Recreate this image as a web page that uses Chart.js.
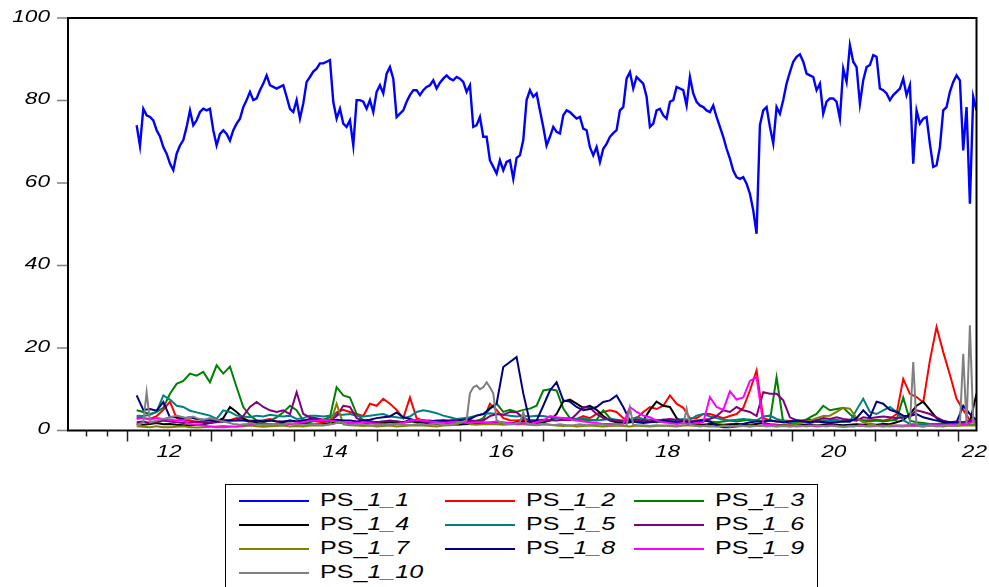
<!DOCTYPE html>
<html>
<head>
<meta charset="utf-8">
<script src="https://cdn.jsdelivr.net/npm/chart.js@4.4.0/dist/chart.umd.min.js"></script>
<style>
  html, body { margin: 0; padding: 0; background: #fff; }
  #wrap { position: relative; width: 989px; height: 587px; overflow: hidden; }
  #legend { position: absolute; left: 225px; top: 484px; width: 593px; height: 115px;
            border: 1px solid #000; box-sizing: border-box; background: #fff; }
  .item { position: absolute; height: 24px; width: 190px; }
  .item .ln { position: absolute; left: 0; top: 11px; width: 70px; height: 2px; }
  .item .tx { position: absolute; left: 81px; top: 0; line-height: 24px; white-space: nowrap;
              font: 19px "Liberation Sans", Arial, sans-serif; color: #000;
              transform: scaleX(1.32); transform-origin: 0 50%; }
</style>
</head>
<body>
<div id="wrap">
  <canvas id="grafico" width="989" height="587"></canvas>
  <div id="legend"></div>
</div>
<script>
// Eixo do tempo (anos fracionários)
const inicio = 2012.111;
const passoFino = 0.04011;    // ~2 semanas
const passoGrosso = 0.08022;  // ~1 mês

// Rótulos dos eixos
const yTicks = [0, 20, 40, 60, 80, 100];
const xLabelAnos = [2012, 2014, 2016, 2018, 2020, 2022];
const xLabels = ["12", "14", "16", "18", "20", "22"];

const nomes = ["PS_1_1", "PS_1_2", "PS_1_3", "PS_1_4", "PS_1_5", "PS_1_6", "PS_1_7", "PS_1_8", "PS_1_9", "PS_1_10"];
const cores = ["#0000ff", "#ff0000", "#008000", "#000000", "#008080", "#800080", "#808000", "#000080", "#ff00ff", "#808080"];

// PS_1_1 (grade fina)
const ps11 = [
  74, 69, 78, 76.4, 76, 75.2, 72.8, 71.3, 68.7, 67.1,
  64.7, 63.1, 67.1, 69.1, 70.4, 73.6, 77.6, 74, 75.2, 77.2,
  78, 77.6, 78, 72.8, 69.1, 71.9, 72.8, 71.9, 70.3, 72.8,
  74.4, 75.6, 78.4, 80.1, 82.1, 80.1, 80.5, 82.5, 84.1, 86.1,
  83.7, 83.3, 82.9, 83.3, 83.7, 80.9, 78, 77.2, 80.1, 75.6,
  79.3, 84.5, 85.7, 87, 87.7, 89, 89, 89.4, 89.8, 79.7,
  75.6, 78, 74.4, 73.6, 75.2, 69.1, 80.1, 80.1, 79.7, 78,
  80.1, 77.2, 82.1, 83.7, 81.7, 86.5, 88.1, 85.3, 76, 76.8,
  77.6, 79.7, 81.3, 82.5, 82.5, 81.3, 82.5, 83.3, 83.7, 84.9,
  82.9, 84.3, 85.3, 86.1, 85.3, 84.9, 85.7, 85.3, 84.5, 82.1,
  83.7, 73.6, 74, 76, 71.2, 71.2, 65.5, 63.9, 62.3, 65.5,
  63.1, 65.1, 65.5, 61, 66.1, 66.7, 70.4, 80.1, 82.5, 80.9,
  81.7, 77.6, 73.6, 69.1, 71.2, 73.6, 72.4, 72, 76.4, 77.6,
  77.2, 76.4, 75.6, 76, 73.2, 72.8, 68.7, 66.7, 68.7, 65.1,
  68.3, 69.5, 71.2, 72.1, 72.8, 77.6, 78.4, 85.3, 86.9, 82.9,
  85.7, 84.9, 84.1, 80.9, 73.6, 74.4, 77.6, 78, 76.4, 75.6,
  79.7, 80.1, 83.3, 82.9, 82.5, 78.8, 85.7, 81.7, 79.7, 78.8,
  78.4, 77.6, 77.2, 78.8, 76, 73.6, 71.2, 68.3, 65.9, 63,
  61.4, 61, 61.4, 59.8, 57.4, 53.4, 47.7, 74, 77.6, 78.4,
  73.6, 69.6, 78.4, 76.8, 80.1, 84.1, 86.9, 89.4, 90.6, 91.2,
  89.4, 86.5, 86.1, 85.7, 82.5, 84.1, 76.8, 79.7, 80.5, 80.5,
  79.7, 75.6, 87.7, 84.5, 93.4, 89.4, 88.1, 79.2, 84.9, 88.1,
  88.6, 91, 90.6, 82.9, 82.5, 81.7, 80.1, 81.3, 82.1, 82.9,
  85.3, 81.3, 83.7, 64.7, 77.6, 74.4, 75.6, 76, 69.5, 63.9,
  64.3, 68.7, 77.6, 78.4, 82.1, 84.5, 86.1, 84.9, 67.9, 78.4,
  55, 80.9, 77.6
];

// PS_1_2 .. PS_1_9 (grade grossa)
const ps12 = [
  3.2, 3, 2.8, 3.5, 5, 7, 3, 2.5, 2.5, 2,
  2.2, 2.5, 2.4, 2.6, 2.5, 3, 2.8, 2.4, 2.3, 2.5,
  2.8, 2.2, 2, 2.4, 2.2, 2.5, 2.4, 2.2, 2, 2.5,
  4.4, 5, 4.5, 4, 3.5, 6.5, 6, 7.7, 6.5, 5,
  3, 8, 3, 2.4, 2.4, 2.2, 2.4, 2.5, 2.6, 2.5,
  2.3, 2.4, 2.6, 6.5, 5, 3, 2.5, 2.4, 2.6, 2.4,
  2.5, 2.3, 2.5, 3, 3, 3, 2.8, 3.5, 3, 4,
  4.5, 4.9, 4.5, 3, 2.5, 3, 4.5, 5.7, 5.2, 6,
  8.5, 6.5, 5.5, 3, 3, 4, 4, 3.5, 3, 3.5,
  4, 5.5, 9.7, 14.6, 3, 2.5, 2.2, 2.4, 2.3, 2.5,
  2.2, 2.4, 2.2, 2.5, 2.3, 2.4, 2.2, 2.5, 2.6, 2.4,
  2.5, 2.6, 2.4, 2.8, 4, 12.5, 8.9, 8.1, 6.8, 17,
  25.1, 19, 13.5, 7.7, 5, 2.5, 2.2
];
const ps13 = [
  4.9, 4.5, 4, 4.5, 5.5, 8.9, 11.3, 12, 13.8, 13.3,
  14.2, 11.7, 15.8, 13.8, 15.5, 10.5, 5.7, 3.6, 2.4, 2,
  2.4, 3.2, 4.4, 6, 4.9, 2.4, 2, 2.5, 2.6, 3.2,
  10.5, 8.5, 8, 4, 2.5, 2.2, 2, 2.2, 2, 1.8,
  2, 2.2, 2, 2.4, 2.2, 2, 1.8, 2, 2.2, 2,
  2.4, 2.2, 3, 5.5, 6.5, 4.5, 5, 4.5, 5, 5.3,
  6, 9.7, 10, 9.7, 5.3, 3, 2.8, 2.6, 2.4, 2.6,
  4.9, 3, 2.4, 2.2, 2, 2.2, 2.4, 2.2, 2, 2.2,
  2, 2.2, 2.4, 2, 2.2, 2.4, 2.2, 2, 2.2, 2.4,
  2.2, 2.4, 2.6, 2.4, 2.2, 2.4, 12.9, 2, 1.8, 2,
  2.2, 3.2, 4, 6, 4.9, 5.2, 5.5, 4, 2.6, 2.4,
  2.2, 2.4, 2.2, 2.4, 2.6, 8, 2.4, 2, 1.8, 1.6,
  1.6, 1.8, 1.6, 1.8, 2, 2.2, 2.4
];
const ps14 = [
  1.5, 1.4, 1.6, 1.8, 1.5, 1.6, 1.4, 1.3, 1.2, 1.4,
  1.5, 1.8, 2.2, 3, 5.7, 4.5, 3, 2, 1.8, 1.6,
  1.5, 1.6, 1.8, 1.6, 1.5, 1.8, 1.6, 1.5, 1.6, 1.8,
  2, 1.8, 1.6, 1.5, 1.6, 1.8, 2, 1.8, 2, 2.2,
  2, 2.5, 2, 1.8, 1.6, 1.5, 1.6, 1.5, 1.4, 1.5,
  1.6, 1.8, 1.6, 1.8, 2, 1.8, 1.6, 2, 2.2, 2,
  1.8, 2, 2.4, 4, 7, 7.5, 6.5, 5.5, 6, 5,
  3.5, 2.4, 2, 1.8, 2, 2.2, 2.4, 5, 7, 6,
  5.7, 3, 2, 1.6, 1.5, 1.4, 1.6, 1.5, 1.4, 1.5,
  1.6, 1.5, 1.4, 1.6, 1.8, 1.5, 1.4, 1.3, 1.4, 1.5,
  1.4, 1.5, 1.3, 1.4, 1.5, 1.4, 1.3, 1.4, 1.5, 1.4,
  1.5, 1.4, 1.6, 1.5, 2, 2.5, 4, 6, 7, 5,
  3, 2, 1.5, 1.4, 1.6, 2, 9
];
const ps15 = [
  3.6, 3.5, 3.8, 4.5, 8.5, 7.5, 6, 5.7, 4.8, 4.4,
  4, 3.6, 2.8, 4.9, 4.5, 3.6, 3.4, 3.2, 3.6, 3.4,
  3.8, 3.6, 3.4, 3.6, 2.8, 3, 3.6, 3.6, 3.4, 3.6,
  3.8, 3.8, 4, 3.6, 3.4, 3.6, 3.8, 4, 3.4, 3.2,
  3, 3.4, 4.5, 4.9, 4.6, 4.2, 3.6, 3.2, 2.8, 3,
  3.2, 3.6, 4, 4.2, 4, 3.8, 3.6, 3.4, 3.6, 3.4,
  3.6, 3.5, 3.2, 3, 2.8, 2.6, 2.8, 3, 2.6, 2.4,
  2.6, 2.8, 2.6, 2.4, 2.6, 3.2, 2.8, 2.6, 2.4, 2.6,
  2.4, 2.6, 2.8, 2.6, 3.6, 4, 3.4, 3, 2.6, 2.4,
  2.6, 2.8, 2.6, 2.4, 3.4, 3.6, 2.8, 2.4, 2, 2.2,
  2.4, 2.6, 2.4, 2.2, 2.4, 2.6, 2.2, 2.2, 5, 7.7,
  4.5, 4, 4.9, 5.7, 4.5, 2.5, 1.6, 1.5, 1.5, 1.5,
  1.5, 1.4, 1.5, 1.6, 1.5, 1.4, 1.5
];
const ps16 = [
  2, 2.2, 1.8, 2, 2.4, 2.2, 2, 1.8, 2, 2.2,
  2, 1.8, 2, 2.2, 2.4, 2.5, 3.5, 5.7, 6.9, 5.7,
  4.9, 4.5, 4.9, 4, 9.3, 4, 3.2, 3, 2.6, 2.4,
  3.5, 6, 5.7, 3, 2.4, 2.2, 2, 2.2, 2.4, 2.2,
  2, 2.2, 2.4, 2.2, 2, 2.2, 2.4, 2.2, 2, 2.2,
  2.4, 2.2, 2.4, 3.5, 4, 3.8, 4.5, 4.4, 3, 2.5,
  2.4, 2.6, 2.5, 2.4, 2.6, 2.5, 4, 5.7, 5.5, 4,
  3, 2.6, 2.4, 2.2, 2.4, 2.6, 2.4, 2.2, 2.4, 2.6,
  2.8, 2.6, 2.4, 2.2, 2.4, 2.6, 2.8, 3.5, 4.9, 4.5,
  5.7, 4.9, 4.5, 3.5, 9.3, 8.9, 8.9, 7.3, 3.2, 2.5,
  2.4, 2.6, 2.5, 3, 2.8, 3.2, 2.8, 2.6, 2.4, 3.2,
  3, 3.2, 3.4, 3.2, 3, 3.2, 3.5, 4.9, 4.5, 4,
  3.2, 2.4, 2, 2.2, 2, 2.4, 2
];
const ps17 = [
  1, 0.9, 0.8, 1, 0.8, 0.8, 0.9, 1, 0.8, 0.7,
  0.8, 0.9, 1, 1.1, 1, 0.9, 1, 1.2, 1, 0.9,
  1, 1.1, 1.2, 1, 1.1, 1, 1.2, 1.3, 1.2, 1.5,
  6.5, 1.5, 1.3, 1.2, 1.1, 1.2, 1, 1.1, 1.2, 1,
  1.1, 1.2, 1.3, 1.2, 1.1, 1, 1.2, 1.3, 1.4, 2.4,
  1.5, 1.4, 1.5, 1.6, 1.5, 1.4, 1.5, 1.6, 1.5, 1.4,
  1.3, 1.5, 1.4, 1.2, 1.1, 1.2, 1, 1.1, 1.2, 1.1,
  1, 1.1, 1.2, 1.1, 1, 1.2, 1.1, 1, 1.1, 1.2,
  1.1, 1, 1.2, 1.3, 1.2, 1.1, 1, 1.1, 1.2, 1.1,
  1, 1.1, 1.2, 1.1, 1.2, 1.4, 1.3, 1.2, 1.4, 1.6,
  2, 2.4, 3, 3.5, 3.6, 4.5, 5.5, 5.3, 3, 2,
  1.5, 1.2, 1.1, 1.2, 1.1, 1, 1.2, 1.1, 1, 1.2,
  1.1, 1, 1.2, 1.1, 1.2, 1.3, 1.2
];
const ps18 = [
  8.5, 5, 5.2, 4.8, 6.9, 3.2, 3.2, 3, 3.2, 2.8,
  2.6, 2.4, 2.4, 2.2, 2.4, 2.4, 2.4, 2.2, 2.4, 2.2,
  2.4, 2.2, 2.2, 2.4, 2.2, 2.4, 2.8, 2.6, 2.4, 2.4,
  2.6, 2.4, 2.4, 2.2, 2.4, 2.6, 3, 3.2, 3.4, 4.4,
  3.2, 2.8, 2.4, 2.4, 2.2, 2.4, 2.4, 2.2, 2.4, 2.6,
  2.8, 3.6, 4, 5.3, 6.5, 15.4, 16.6, 17.8, 9, 2,
  2.4, 6, 9.7, 11.7, 7.3, 7, 5.7, 4.9, 5.2, 5.7,
  6.9, 7.3, 8.5, 5.7, 2.4, 2, 1.8, 2, 2.2, 2.4,
  2.2, 2, 2.2, 2, 2.2, 2.4, 2.2, 1.2, 0.8, 0.8,
  1, 1.6, 2, 2.2, 2.2, 2.4, 2.2, 2, 2.2, 2.4,
  2.2, 2, 2.2, 2, 1.8, 2, 2.2, 2.2, 3, 4.9,
  3.2, 7, 6.5, 5, 4.5, 3.6, 3.5, 4, 3.2, 2.8,
  2.4, 2.2, 2, 2, 6, 4, 2.5
];
const ps19 = [
  2.8, 3, 2.6, 3, 2.8, 2.6, 2.4, 2.4, 1.6, 1.4,
  1.2, 1, 0.8, 0.8, 0.9, 1, 1.2, 1.4, 1.4, 1.6,
  1.4, 1.6, 1.4, 1.6, 1.8, 2, 2.4, 2.4, 2.6, 2.4,
  2.2, 2, 2, 1.8, 2, 1.8, 1.6, 1.4, 1.4, 1.6,
  1.8, 2.4, 2.6, 2.4, 2.2, 2, 1.8, 2, 2.2, 2,
  1.8, 2, 2, 2, 2.2, 2, 1.8, 1.6, 1.8, 1.6,
  2, 2.4, 3.5, 3.2, 3, 2.8, 2.4, 2.2, 2, 1.8,
  1.6, 1.6, 1.5, 1.6, 5.7, 4.5, 3.6, 3.2, 2.4, 2,
  1.8, 1.6, 1.8, 1.6, 1.8, 2, 8.1, 5.7, 5, 9.5,
  7.5, 8, 12, 12.9, 1.6, 1.4, 1.2, 1.1, 1.2, 1,
  1.1, 1.2, 1, 1.1, 1.2, 1, 0.9, 1, 1.1, 1.2,
  1, 1.1, 1.2, 1, 1.1, 1.2, 1.3, 1.2, 1.1, 1.2,
  1.3, 1.2, 1.4, 1.3, 1.5, 1.8, 2.4
];

// PS_1_10 (grade fina, picos isolados)
const ps110 = [
  1.5, 1.5, 2, 9.3, 2, 2.2, 2.4, 2.6, 2.8, 3,
  3.2, 3.4, 3.6, 3.4, 3.2, 3, 3.2, 3.4, 3, 2.8,
  2.6, 2.8, 3, 2.8, 2.6, 2.4, 2.2, 2, 1.8, 1.6,
  1.5, 1.4, 1.5, 1.6, 1.8, 1.7, 1.5, 1.4, 1.3, 1.4,
  1.5, 1.6, 1.5, 1.4, 1.5, 1.7, 1.8, 1.6, 1.5, 1.4,
  1.3, 1.4, 1.5, 1.6, 1.5, 1.4, 1.3, 1.4, 1.5, 1.6,
  1.8, 2, 1.8, 1.6, 1.5, 1.4, 1.5, 1.6, 1.5, 1.4,
  1.3, 1.2, 1.3, 1.4, 1.5, 1.4, 1.3, 1.4, 1.5, 1.6,
  1.5, 1.4, 1.3, 1.4, 1.5, 1.6, 1.5, 1.4, 1.5, 1.6,
  1.7, 1.6, 1.5, 1.4, 1.5, 1.6, 1.8, 2, 2.2, 2.5,
  9, 10.5, 10.9, 10, 10.5, 11.7, 10.5, 9, 2.5, 2,
  1.8, 1.6, 1.5, 1.6, 1.8, 2, 4.4, 1.8, 1.6, 1.5,
  1.4, 1.5, 1.6, 1.5, 1.4, 1.3, 1.4, 1.5, 1.4, 1.3,
  1.2, 1.3, 1.4, 1.5, 1.4, 1.3, 1.4, 1.5, 1.6, 1.5,
  1.4, 1.3, 1.2, 1.3, 1.4, 1.3, 1.2, 1.3, 5.5, 1.4,
  1.3, 1.2, 1.3, 1.2, 1.1, 1.2, 1.3, 1.2, 1.1, 1.2,
  1.3, 1.2, 1.1, 1.2, 1.3, 5.3, 1.4, 1.2, 1.1, 1,
  1.1, 1.2, 1.1, 1, 0.9, 1, 1.1, 1, 0.9, 1,
  1.1, 1.2, 1.1, 1, 0.9, 1, 1.1, 1.2, 1.1, 1,
  1.1, 1, 0.9, 1, 1.1, 1, 0.9, 1, 1.1, 1.2,
  1.1, 1, 1.1, 1.2, 1.3, 1.2, 1.1, 1, 1.1, 1.2,
  1.1, 1, 0.9, 1, 1.1, 1, 1.1, 1.2, 1.1, 1,
  1.1, 1.2, 1.1, 1, 0.9, 1, 1.1, 1.2, 1.3, 1.2,
  1.1, 1.2, 1.4, 16.6, 1.2, 1.1, 1, 1.1, 1.2, 1.1,
  1, 1.1, 1.2, 1.3, 1.2, 1.1, 1.2, 1.4, 18.6, 1.5,
  25.5, 2, 1.5
];

const series = [
  { valores: ps11, passo: passoFino },
  { valores: ps12, passo: passoGrosso },
  { valores: ps13, passo: passoGrosso },
  { valores: ps14, passo: passoGrosso },
  { valores: ps15, passo: passoGrosso },
  { valores: ps16, passo: passoGrosso },
  { valores: ps17, passo: passoGrosso },
  { valores: ps18, passo: passoGrosso },
  { valores: ps19, passo: passoGrosso },
  { valores: ps110, passo: passoFino }
];

// 🔹 Texto esticado na horizontal (fonte larga do original)
function textoLargo(ctx, txt, px, py, align) {
  ctx.save();
  ctx.translate(px, py);
  ctx.scale(1.33, 1);
  ctx.textAlign = align;
  ctx.textBaseline = "middle";
  ctx.fillText(txt, 0, 0);
  ctx.restore();
}

// 🔹 Eixos no estilo do gráfico original
const eixosPlugin = {
  id: "eixos",
  afterDraw(chart) {
    const { ctx, chartArea: a, scales } = chart;
    const x = scales.x, y = scales.y;
    ctx.save();
    ctx.font = 'italic 17px "Liberation Sans", Arial, sans-serif';
    ctx.fillStyle = "#000";

    // ticks do eixo Y
    ctx.strokeStyle = "#808080";
    ctx.lineWidth = 1.5;
    yTicks.forEach(v => {
      const py = y.getPixelForValue(v);
      ctx.beginPath();
      ctx.moveTo(a.left - 11, py);
      ctx.lineTo(a.left, py);
      ctx.stroke();
      textoLargo(ctx, String(v), 50, py - 1, "right");
    });

    // ticks do eixo X (trimestres, ano = tick maior)
    ctx.strokeStyle = "#222";
    ctx.lineWidth = 1.5;
    for (let q = Math.ceil(x.min * 4); q <= x.max * 4; q++) {
      const px = Math.round(x.getPixelForValue(q / 4)) + 0.5;
      const len = q % 4 === 0 ? 11 : 6;
      ctx.beginPath();
      ctx.moveTo(px, a.bottom);
      ctx.lineTo(px, a.bottom + len);
      ctx.stroke();
    }
    xLabelAnos.forEach((ano, i) => {
      const w = ctx.measureText(xLabels[i]).width * 1.33;
      let px = x.getPixelForValue(ano + 0.5);
      px = Math.min(px, chart.width - w / 2 - 2);
      textoLargo(ctx, xLabels[i], px, 452, "center");
    });

    // moldura
    ctx.strokeStyle = "#000";
    ctx.lineWidth = 2;
    ctx.strokeRect(a.left, a.top, a.right - a.left, a.bottom - a.top);
    ctx.restore();
  }
};

const datasets = series.map((s, i) => ({
  label: nomes[i],
  data: s.valores.map((v, j) => ({ x: inicio + j * s.passo, y: v })),
  borderColor: cores[i],
  backgroundColor: cores[i],
  borderWidth: i === 0 ? 2.4 : 2,
  pointRadius: 0,
  tension: 0,
  spanGaps: false,
  order: 10 - i
}));

const grafico = new Chart(document.getElementById("grafico"), {
  type: "line",
  data: { datasets },
  options: {
    responsive: false,
    animation: false,
    layout: { padding: { left: 68, top: 18, right: 12.5, bottom: 156.5 } },
    plugins: { legend: { display: false }, tooltip: { enabled: false } },
    scales: {
      x: { type: "linear", display: false, min: 2011.285, max: 2022.218 },
      y: { display: false, min: 0, max: 100 }
    }
  },
  plugins: [eixosPlugin]
});

// 🔹 Legenda em HTML (3 colunas)
const legendaEl = document.getElementById("legend");
const colunas = [13, 219, 408];
const linhas = [4, 28, 52, 76];
grafico.data.datasets.forEach((d, i) => {
  const item = document.createElement("div");
  item.className = "item";
  item.style.left = colunas[i % 3] + "px";
  item.style.top = linhas[Math.floor(i / 3)] + "px";
  const rotulo = d.label.replace(/^(\D+)(.*)$/, "$1<i>$2</i>");
  item.innerHTML = `<span class="ln" style="background:${d.borderColor}"></span><span class="tx">${rotulo}</span>`;
  legendaEl.appendChild(item);
});
</script>
</body>
</html>
